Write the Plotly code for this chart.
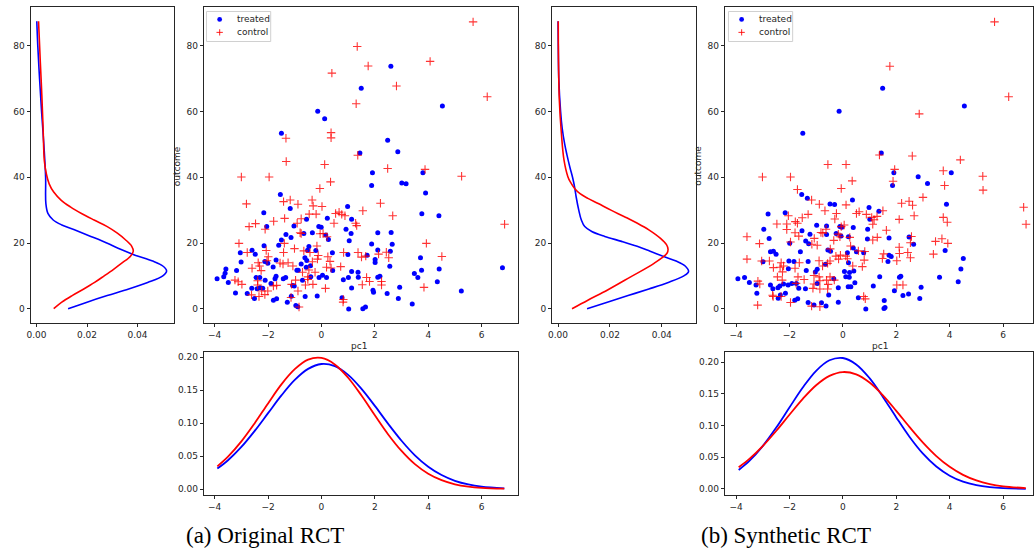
import plotly.graph_objects as go

W, H = 1034, 552

# ---------------- data: panel (a) Original RCT ----------------
treated_a = [(2.60,73.8),(1.49,67.1),(4.53,61.7),(-0.14,60.1),(0.12,57.8),(-1.50,53.4),(2.48,51.3),(2.86,47.8),(1.44,47.4),(1.91,41.4),(3.80,41.4),
(-1.54,34.8),(0.98,31.1),(-2.16,29.2),(1.13,27.2),(-1.17,30.5),(-0.56,27.2),(-2.05,25.0),(-1.03,25.2),(-0.10,25.0),(-0.01,24.8),(0.22,27.5),(0.92,24.2),(1.11,22.9),(-1.33,22.6),(-1.14,21.7),(-0.66,22.9),(-0.34,23.1),(0.16,22.4),(0.26,21.1),(1.04,20.7),(-2.15,19.2),(-1.50,20.9),(-1.60,19.3),(-3.04,17.0),(-2.60,17.8),(-2.48,16.6),(-0.47,18.9),(-0.52,17.8),(-0.21,17.7),(0.41,17.0),(0.99,16.5),(-3.01,14.2),(-2.12,14.4),(-1.70,14.8),(-2.01,13.8),(-0.62,15.5),(-0.55,14.7),(-0.41,13.1),(-0.57,12.6),(-0.76,13.6),(-1.81,12.7),(-0.92,11.7),(-0.87,11.7),(1.13,11.3),(1.37,11.1),(1.01,9.5),(1.38,9.6),(-3.58,12.1),(-3.61,10.8),(-3.66,9.7),(-3.91,9.1),(-3.49,8.0),(-3.18,11.6),(-2.45,9.5),(-2.31,9.5),(-2.11,8.7),(-1.89,7.7),(-1.70,9.9),(-1.74,9.1),(-1.43,9.1),(-1.34,9.5),(-1.08,7.1),(-1.02,6.9),(-0.71,8.7),(-0.40,9.7),(-0.09,9.5),(0.04,10.2),(0.19,9.5),(0.82,8.8),(0.42,11.6),(1.13,6.3),(-3.22,4.8),(-2.78,4.6),(-2.61,6.2),(-2.41,6.1),(-2.51,3.1),(-2.30,6.4),(-2.20,6.2),(-1.80,2.6),(-1.68,3.0),(-1.28,2.0),(-1.13,3.8),(-0.96,1.0),(-0.89,0.6),(-0.61,3.7),(-0.16,3.9),(0.77,3.3),(1.02,-0.1),(1.55,0.0),(1.65,0.5),
(1.88,37.5),(3.01,38.3),(3.17,38.0),(3.90,35.2),(3.76,28.9),(4.40,28.3),(2.11,23.1),(2.61,23.2),(1.88,19.7),(2.65,19.6),(2.11,17.9),(2.58,17.5),(1.71,16.3),(2.01,15.0),(2.01,14.1),(2.56,12.9),(3.71,15.5),(4.41,12.1),(3.75,11.7),(3.48,10.7),(3.61,9.5),(2.11,9.6),(2.19,9.9),(4.34,8.2),(6.78,12.5),(2.93,6.5),(1.93,5.6),(1.95,5.0),(2.46,4.6),(2.88,3.1),(3.40,1.4),(5.24,5.4)]

control_a = [(5.68,87.3),(1.34,79.8),(4.07,75.3),(1.75,73.9),(0.39,71.7),(2.81,67.8),(6.21,64.5),(1.30,62.4),(0.36,53.6),(0.36,52.0),(-1.33,51.9),(-1.32,44.8),(0.12,43.9),(1.36,46.7),(2.48,42.7),(3.88,42.4),(5.25,40.3),(-3.0,40.1),(-1.96,40.1),
(-0.06,36.6),(0.34,38.6),(-2.81,31.9),(-1.42,32.6),(-1.17,33.1),(-0.88,31.8),(-0.35,33.1),(-0.31,31.3),(0.02,31.1),(-2.71,25.0),(-2.47,25.9),(-2.11,24.2),(-1.79,26.6),(-1.38,27.5),(-0.91,26.0),(-0.76,27.4),(-0.46,28.8),(-0.20,28.8),(0.47,26.0),(0.53,29.0),(0.66,29.4),(0.76,28.7),(0.88,28.3),(1.28,26.0),(1.32,25.3),(-0.80,23.1),(-0.76,22.9),(-0.05,22.8),(0.06,22.9),(0.21,21.9),(-3.09,19.9),(-2.78,17.1),(-2.07,17.7),(-1.99,15.8),(-2.04,14.6),(-1.39,19.9),(-1.42,17.1),(-1.01,18.3),(-0.66,17.6),(-0.43,17.1),(-0.17,19.1),(-0.12,16.2),(-0.15,15.1),(-0.34,14.3),(0.24,15.8),(0.32,14.4),(0.83,17.1),(1.37,17.1),(1.50,15.7),(1.66,16.0),(-2.37,14.0),(-2.32,13.0),(-2.26,11.6),(-2.60,12.3),(-1.55,13.9),(-1.44,13.6),(-1.25,14.0),(-1.07,13.0),(-0.71,11.1),(-0.47,11.8),(-0.24,11.1),(0.19,12.6),(0.36,12.4),(0.72,12.8),(-3.24,8.7),(-3.12,8.2),(-2.98,7.4),(-2.39,8.5),(-2.39,7.2),(-2.24,5.4),(-2.01,5.4),(-1.80,6.9),(-1.68,7.1),(-1.12,7.4),(-0.88,5.4),(-0.97,8.7),(-0.51,9.7),(-0.51,8.9),(-0.60,7.2),(-0.32,7.4),(0.15,6.2),(-2.62,4.2),(-2.34,3.7),(-2.12,4.3),(-1.14,3.4),(-0.84,0.5),(0.82,2.8),(0.81,2.0),
(2.21,32.1),(1.55,29.8),(2.67,28.3),(6.86,25.7),(3.93,19.9),(4.51,15.9),(2.43,17.2),(2.14,16.6),(2.52,15.5),(1.69,9.5),(1.80,8.3),(2.25,8.3),(2.25,7.2),(1.53,7.3),(3.84,6.5)]

# ---------------- data: panel (b) Synthetic RCT ----------------
treated_b = [(1.49,67.1),(-0.14,60.1),(4.55,61.7),(-1.50,53.4),(1.44,47.4),(1.91,41.4),(2.82,40.2),(4.06,41.4),
(-1.54,34.8),(-1.33,33.6),(-0.48,31.9),(-0.31,31.7),(0.36,33.1),(-2.80,28.8),(-2.16,29.2),(-0.98,25.4),(-0.61,25.2),(-0.11,25.0),(-0.04,24.8),(0.39,24.7),(0.98,30.8),(1.35,29.7),(1.01,27.2),(0.93,24.2),(-2.96,24.2),(-2.76,21.4),(-1.53,23.7),(-1.23,22.7),(-0.61,22.6),(-0.25,22.9),(-0.07,22.1),(0.21,21.9),(0.92,21.2),(-1.28,19.8),(-1.39,20.6),(-1.99,19.9),(0.39,18.5),(-2.60,17.5),(-2.71,17.3),(-2.50,16.6),(-1.59,17.3),(-0.56,17.9),(-0.46,17.5),(0.17,17.0),(0.51,17.3),(0.78,17.0),(-2.99,14.3),(-2.02,14.5),(-1.30,14.4),(-1.83,14.4),(-2.04,12.2),(-1.37,11.6),(-1.03,11.2),(-0.96,12.0),(-0.65,13.5),(0.21,14.0),(0.06,11.3),(0.25,11.0),(0.41,11.5),(0.11,9.7),(0.24,9.6),(-3.93,9.1),(-3.68,9.5),(-3.50,8.0),(-3.25,7.2),(-3.22,4.7),(-2.71,7.2),(-2.62,6.1),(-2.43,6.4),(-2.36,6.9),(-2.42,3.2),(-2.34,4.2),(-2.22,7.5),(-2.15,4.7),(-2.05,7.2),(-1.91,7.7),(-1.74,7.7),(-1.65,6.2),(-1.80,2.6),(-1.69,3.0),(-1.40,6.1),(-1.30,1.9),(-1.08,1.1),(-0.96,7.7),(-0.53,4.2),(-0.63,0.8),(-0.80,1.8),(-0.17,6.4),(-0.34,9.1),(0.20,6.7),(0.30,6.7),(0.45,7.9),(-0.17,2.0),(0.58,3.3),(0.86,-0.1),(1.54,0.1),(1.14,6.9),
(1.86,37.5),(3.17,38.1),(3.88,31.8),(1.73,21.5),(2.48,21.8),(2.65,19.6),(3.83,17.7),(4.51,15.3),(1.73,16.3),(1.81,15.9),(1.69,14.4),(4.42,12.1),(1.38,9.7),(2.12,9.6),(2.17,9.9),(3.62,9.6),(4.32,8.2),(2.93,6.5),(1.93,5.5),(2.25,4.0),(2.46,4.5),(2.88,3.1),(1.55,2.5),(1.58,0.4)]

control_b = [(5.68,87.3),(1.76,73.8),(6.21,64.5),(2.86,59.3),(1.37,46.8),(2.60,46.5),(-0.56,43.9),(0.12,43.9),(4.40,45.3),(1.94,42.4),(3.76,42.0),(5.24,40.3),(-3.01,40.1),(-1.96,40.1),
(-0.06,36.6),(0.35,38.9),(-1.70,36.3),(-1.17,33.1),(-0.88,31.8),(-0.67,29.8),(-0.24,29.0),(0.12,31.6),(-0.30,27.3),(-1.30,28.7),(-1.52,27.7),(-2.04,28.3),(-1.78,26.5),(-1.70,26.0),(-2.10,25.8),(-2.10,24.1),(-2.47,25.8),(-3.59,21.9),(-3.12,19.8),(-1.65,22.1),(-1.79,23.1),(-1.96,20.3),(-1.16,19.6),(-1.07,21.4),(-0.96,19.3),(-0.82,23.2),(-0.75,23.0),(-0.63,24.2),(-0.17,22.7),(-0.34,20.8),(-0.11,21.9),(-0.06,25.0),(0.05,25.5),(0.26,21.7),(0.51,29.0),(0.61,29.5),(0.88,28.7),(1.08,27.8),(1.12,25.7),(1.17,27.1),(1.28,28.1),(1.50,29.8),(1.12,20.9),(1.29,21.7),(0.29,19.1),(0.58,17.6),(0.82,17.4),(-0.47,18.2),(-3.59,15.1),(-3.04,14.5),(-2.75,14.5),(-2.31,14.0),(-2.22,13.0),(-2.35,12.6),(-2.60,12.5),(-1.63,14.0),(-1.79,12.3),(-0.89,14.6),(-0.76,13.0),(-0.57,13.8),(-0.48,14.5),(-0.26,16.0),(-0.16,15.1),(-0.09,16.3),(0.17,15.2),(0.11,16.0),(0.37,13.0),(0.73,12.8),(0.80,14.8),(1.48,15.3),(-2.26,11.2),(-2.45,9.7),(-2.27,8.7),(-1.68,9.7),(-1.45,8.9),(-1.75,7.7),(-1.08,10.1),(-0.89,9.7),(-0.86,8.5),(-1.08,7.5),(-0.61,8.7),(-0.48,9.7),(-0.55,7.4),(-0.32,8.7),(-0.86,6.0),(-1.12,6.2),(-3.18,8.4),(-3.11,7.5),(-2.63,4.1),(-2.61,3.7),(-2.31,3.7),(-3.19,1.1),(-1.96,1.9),(-1.17,0.8),(-0.86,0.6),(0.78,3.7),(0.84,3.0),(-0.57,6.0),
(1.88,38.8),(3.81,37.5),(5.25,36.1),(3.00,33.9),(2.20,32.1),(2.48,32.7),(2.61,31.5),(6.77,30.9),(6.86,25.7),(2.67,28.3),(2.11,27.2),(3.76,27.8),(3.91,26.3),(1.63,23.9),(2.57,22.0),(2.53,20.1),(3.47,20.5),(3.71,21.3),(3.93,19.9),(2.11,18.7),(2.12,16.8),(2.43,17.1),(2.53,15.5),(1.53,16.7),(3.39,16.6),(2.02,14.6),(2.02,7.2),(2.25,7.2)]

# ---- outcome densities (left panels) ----
out_tr_a_y = [0,2,4,6,8,10,11.5,13,14.5,16.3,18,20,22,24,25.5,27,29,32,40,50,60,70,80,87.5]
out_tr_a_d = [.0125,.020,.028,.0365,.044,.050,.0515,.050,.046,.039,.0335,.0278,.0215,.0150,.0100,.0066,.0045,.0037,.0036,.0029,.0020,.0012,.0005,.0001]
out_ct_a_y = [0,2,4,6,8,10,12,14,16,17.5,19,21,23,25,27,29,31,33,35.5,38,41,45,55,65,75,87.5]
out_ct_a_d = [.0068,.0100,.0141,.0187,.0230,.0268,.0305,.0340,.0372,.0383,.0377,.0352,.0320,.0280,.0228,.0178,.0134,.0098,.0068,.0050,.0039,.0031,.0026,.0021,.0015,.0008]
out_tr_b_y = [0,2,4,6,8,10,11.3,13,14.5,15.8,17.5,19,20.5,22,23.5,25,27,30,34,37,40,43,47,50,55,60,70,80,87.5]
out_tr_b_d = [.0112,.0190,.0270,.0350,.0425,.0485,.0503,.0490,.0455,.0410,.0355,.0305,.0245,.0180,.0130,.0103,.0090,.0080,.0070,.0064,.0056,.0046,.0034,.0026,.0016,.0010,.0003,.0001,.0000]
out_ct_b_y = [0,2.6,5.7,9.7,13.8,16.9,18.1,19.5,21.4,24,26,28,30,32,33.6,35,36.6,38.5,40.2,45.3,53.4,63.6,75,87.5]
out_ct_b_d = [.0054,.0115,.0191,.0280,.0370,.0420,.0424,.0418,.0395,.0350,.0306,.0256,.0204,.0155,.0115,.0085,.0064,.0048,.0038,.0023,.0013,.0005,.0002,.0001]

# ---- pc1 densities (bottom panels) ----
pc1_grid = [-3.9,-3.5,-3,-2.5,-2,-1.5,-1,-0.5,0,0.5,1,1.5,2,2.5,3,3.5,4,4.5,5,5.5,6,6.85]
pc1_tr_a = [.0310,.0437,.0639,.0883,.1152,.1421,.1657,.1824,.1898,.1866,.1733,.1521,.1262,.0989,.0733,.0512,.0339,.0212,.0125,.0070,.0037,.0011]
pc1_ct_a = [.0344,.0491,.0723,.1000,.1300,.1589,.1820,.1965,.1990,.1892,.1690,.1420,.1120,.0829,.0578,.0377,.0232,.0134,.0072,.0037,.0018,.0005]
pc1_tr_b = [.0301,.0443,.0677,.0965,.1286,.1602,.1866,.2032,.2068,.1967,.1750,.1454,.1130,.0821,.0557,.0354,.0210,.0116,.0060,.0029,.0013,.0003]
pc1_ct_b = [.0344,.0475,.0677,.0915,.1172,.1423,.1638,.1786,.1846,.1809,.1680,.1479,.1234,.0976,.0732,.0520,.0350,.0223,.0135,.0077,.0042,.0013]

legend_labels = ["treated", "control"]
captions = ["(a) Original RCT", "(b) Synthetic RCT"]

# ---------------- styling helpers ----------------
def fx(px):
    return px / W

def fy(py):
    return 1 - py / H

FONT = "DejaVu Sans"
LC = "#262626"
FS = 9

def axis(domain, rng, anchor, **kw):
    d = dict(domain=domain, range=rng, anchor=anchor, showgrid=False, zeroline=False,
             showline=True, mirror=True, linecolor=LC, linewidth=1,
             ticks="outside", ticklen=3, tickwidth=1, tickcolor=LC,
             tickfont=dict(family=FONT, size=FS, color=LC))
    d.update(kw)
    return d

fig = go.Figure()
BLUE, RED = "#0000ff", "#ff0000"
RED_A = "rgba(255,0,0,0.8)"

def add_panel(n0, tr, ct, o_tr_y, o_tr_d, o_ct_y, o_ct_d, p_tr, p_ct):
    a1, a2, a3 = n0, n0 + 1, n0 + 2
    s = lambda i: "" if i == 1 else str(i)
    fig.add_trace(go.Scatter(x=o_tr_d, y=o_tr_y, mode="lines", line=dict(color=BLUE, width=1.6, shape="spline"),
                             xaxis="x" + s(a1), yaxis="y" + s(a1)))
    fig.add_trace(go.Scatter(x=o_ct_d, y=o_ct_y, mode="lines", line=dict(color=RED, width=1.6, shape="spline"),
                             xaxis="x" + s(a1), yaxis="y" + s(a1)))
    fig.add_trace(go.Scatter(x=[p[0] for p in tr], y=[p[1] for p in tr], mode="markers", name=legend_labels[0],
                             marker=dict(color=BLUE, size=5, line=dict(width=0)),
                             xaxis="x" + s(a2), yaxis="y" + s(a2)))
    fig.add_trace(go.Scatter(x=[p[0] for p in ct], y=[p[1] for p in ct], mode="markers", name=legend_labels[1],
                             marker=dict(symbol="cross-thin", size=6, line=dict(color=RED_A, width=1.1)),
                             xaxis="x" + s(a2), yaxis="y" + s(a2)))
    fig.add_trace(go.Scatter(x=pc1_grid, y=p_tr, mode="lines", line=dict(color=BLUE, width=1.8, shape="spline"),
                             xaxis="x" + s(a3), yaxis="y" + s(a3)))
    fig.add_trace(go.Scatter(x=pc1_grid, y=p_ct, mode="lines", line=dict(color=RED, width=1.8, shape="spline"),
                             xaxis="x" + s(a3), yaxis="y" + s(a3)))

add_panel(1, treated_a, control_a, out_tr_a_y, out_tr_a_d, out_ct_a_y, out_ct_a_d, pc1_tr_a, pc1_ct_a)
add_panel(4, treated_b, control_b, out_tr_b_y, out_tr_b_d, out_ct_b_y, out_ct_b_d, pc1_tr_b, pc1_ct_b)

ydom_top = [fy(322.9), fy(6.9)]
ydom_bot = [fy(495), fy(352.3)]
yr_out = [-4.32, 91.87]
dens_ticks = dict(tickmode="array", tickvals=[0, 0.02, 0.04], ticktext=["0.00", "0.02", "0.04"])
pc_ticks = dict(tickmode="array", tickvals=[-4, -2, 0, 2, 4, 6])
out_ticks = dict(tickmode="array", tickvals=[0, 20, 40, 60, 80])
bot_ticks = dict(tickmode="array", tickvals=[0, 0.05, 0.10, 0.15, 0.20], ticktext=["0.00", "0.05", "0.10", "0.15", "0.20"])

layout = dict(
    width=W, height=H, margin=dict(l=0, r=0, t=0, b=0), showlegend=False,
    paper_bgcolor="white", plot_bgcolor="white",
    # panel a
    xaxis=axis([fx(26.7), fx(171)], [-0.00236, 0.0545], "y", **dens_ticks),
    yaxis=axis(ydom_top, yr_out, "x", **out_ticks),
    xaxis2=axis([fx(200.7), fx(516.7)], [-4.41, 7.37], "y2", **pc_ticks),
    yaxis2=axis(ydom_top, yr_out, "x2", **out_ticks),
    xaxis3=axis([fx(200.7), fx(516.7)], [-4.41, 7.37], "y3", **pc_ticks),
    yaxis3=axis(ydom_bot, [-0.0091, 0.2076], "x3", **bot_ticks),
    # panel b
    xaxis4=axis([fx(550.7), fx(695.7)], [-0.0023, 0.0533], "y4", **dens_ticks),
    yaxis4=axis(ydom_top, yr_out, "x4", **out_ticks),
    xaxis5=axis([fx(724.3), 1.0], [-4.42, 7.12], "y5", **pc_ticks),
    yaxis5=axis(ydom_top, yr_out, "x5", **out_ticks),
    xaxis6=axis([fx(724.3), 1.0], [-4.42, 7.12], "y6", **pc_ticks),
    yaxis6=axis(ydom_bot, [-0.0095, 0.2158], "x6", **bot_ticks),
)
fig.update_layout(**layout)

ann, shapes = [], []
def note(text, px, py, size=FS, family=FONT, color=LC, xanchor="center", **kw):
    ann.append(dict(text=text, x=fx(px), y=fy(py), xref="paper", yref="paper", showarrow=False,
                    xanchor=xanchor, yanchor="middle", font=dict(family=family, size=size, color=color), **kw))

for cx in (174, 697):
    note("outcome", cx, 166, textangle=-90)
for cx in (357, 880):
    note("pc1", cx, 346)
for cx, cap in zip((262, 786), captions):
    note(cap, cx, 535, size=23, family="Liberation Serif", color="black")

# matplotlib-style legend boxes (glyphs + labels)
for bx in (203.5, 728):
    shapes.append(dict(type="rect", xref="paper", yref="paper", x0=fx(bx), x1=fx(bx + 64.5),
                       y0=fy(41.5), y1=fy(11.5), line=dict(color="#d0d0d0", width=1),
                       fillcolor="rgba(255,255,255,0.85)", layer="above"))
    mx = bx + 13.2
    shapes.append(dict(type="circle", xref="paper", yref="paper", x0=fx(mx - 2.4), x1=fx(mx + 2.4),
                       y0=fy(19.4 + 2.4), y1=fy(19.4 - 2.4), line=dict(width=0), fillcolor=BLUE, layer="above"))
    shapes.append(dict(type="line", xref="paper", yref="paper", x0=fx(mx - 3.2), x1=fx(mx + 3.2),
                       y0=fy(32.4), y1=fy(32.4), line=dict(color=RED_A, width=1.1), layer="above"))
    shapes.append(dict(type="line", xref="paper", yref="paper", x0=fx(mx), x1=fx(mx),
                       y0=fy(32.4 - 3.2), y1=fy(32.4 + 3.2), line=dict(color=RED_A, width=1.1), layer="above"))
    for ly, lab in zip((19.4, 32.4), legend_labels):
        note(lab, bx + 28.5, ly, xanchor="left")

fig.update_layout(annotations=ann, shapes=shapes)

fig.write_html("out.html", config={"displayModeBar": False},
               post_script="document.body.style.margin='0px';document.body.style.overflow='hidden';")
